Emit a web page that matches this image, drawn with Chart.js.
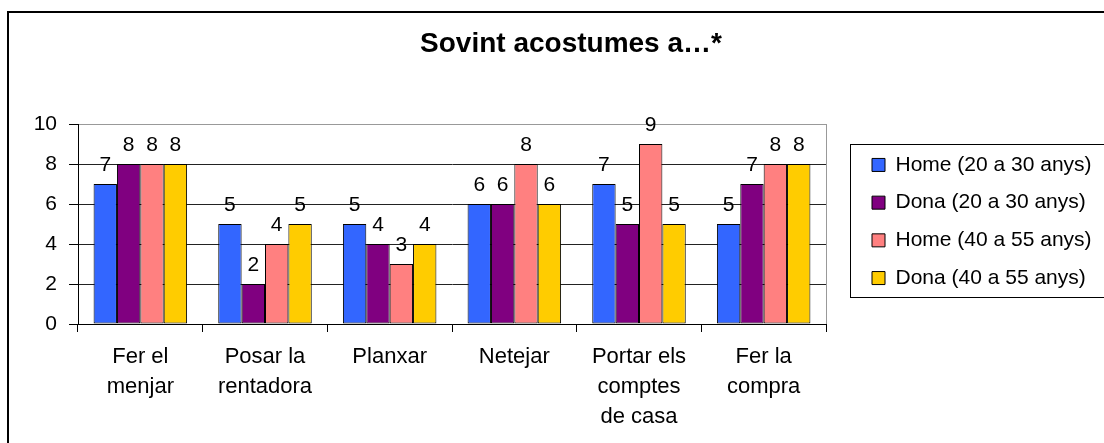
<!DOCTYPE html>
<html>
<head>
<meta charset="utf-8">
<title>Sovint acostumes a…*</title>
<script src="https://cdn.jsdelivr.net/npm/chart.js@4.4.1/dist/chart.umd.min.js"></script>
<style>
  html, body { margin: 0; padding: 0; background: #fff; overflow: hidden; }
  #caixa { width: 1104px; height: 443px; overflow: hidden; }
</style>
</head>
<body>
<div id="caixa"><canvas id="grafic" width="1142" height="443"></canvas></div>
<script>
// dades
const categories = [
  ['Fer el', 'menjar'],
  ['Posar la', 'rentadora'],
  ['Planxar'],
  ['Netejar'],
  ['Portar els', 'comptes', 'de casa'],
  ['Fer la', 'compra']
];
const nomsSeries = ['Home (20 a 30 anys)', 'Dona (20 a 30 anys)', 'Home (40 a 55 anys)', 'Dona (40 a 55 anys)'];
const home2030 = [7, 5, 5, 6, 7, 5];
const dona2030 = [8, 2, 4, 6, 5, 7];
const home4055 = [8, 4, 3, 8, 9, 8];
const dona4055 = [8, 5, 4, 6, 5, 8];
const yTicks = [0, 2, 4, 6, 8, 10];
const colors = ['#3366FF', '#800080', '#FF8080', '#FFCC00'];

const FONT = '"Liberation Sans", Arial, sans-serif';
const PLOT_RIGHT = 826;   // vora dreta de l'area del grafic
const GAP = 29.3;         // espai entre grafic i llegenda

Chart.defaults.font.family = FONT;
Chart.defaults.color = '#000';

// valors damunt de cada barra
const etiquetes = {
  id: 'etiquetes',
  afterDatasetsDraw(chart) {
    const ctx = chart.ctx;
    ctx.save();
    ctx.font = '21px ' + FONT;
    ctx.fillStyle = '#000';
    ctx.textAlign = 'center';
    ctx.textBaseline = 'alphabetic';
    chart.data.datasets.forEach(function(ds, i) {
      chart.getDatasetMeta(i).data.forEach(function(bar, j) {
        ctx.fillText(ds.data[j], bar.x, bar.y - 13);
      });
    });
    ctx.restore();
  }
};

// marc exterior, vora de l'area i marc de la llegenda
const marcs = {
  id: 'marcs',
  beforeDraw(chart) {
    const ctx = chart.ctx;
    const a = chart.chartArea;
    ctx.save();
    ctx.strokeStyle = '#000';
    ctx.lineWidth = 2;
    ctx.strokeRect(8, 12, chart.width - 16, chart.height + 20);
    ctx.strokeStyle = '#999';
    ctx.lineWidth = 1;
    ctx.strokeRect(a.left + 0.5, a.top + 0.5, a.right - a.left, a.bottom - a.top);
    ctx.restore();
  },
  afterDraw(chart) {
    const hb = chart.legend.legendHitBoxes;
    if (!hb || !hb.length) return;
    const first = hb[0], last = hb[hb.length - 1];
    const x = Math.round(first.left - 22) + 0.5;
    const y = Math.round(first.top + first.height / 2 - 21) + 0.5;
    const y2 = Math.round(last.top + last.height / 2 + 19) + 0.5;
    const ctx = chart.ctx;
    ctx.save();
    ctx.strokeStyle = '#000';
    ctx.lineWidth = 1;
    ctx.strokeRect(x, y, 280, y2 - y);
    ctx.restore();
  }
};

const dades = [home2030, dona2030, home4055, dona4055];

new Chart(document.getElementById('grafic'), {
  type: 'bar',
  data: {
    labels: categories,
    datasets: dades.map(function(d, i) {
      return {
        label: nomsSeries[i],
        data: d,
        backgroundColor: colors[i],
        borderColor: '#000',
        borderWidth: 1,
        borderSkipped: false,
        categoryPercentage: 0.75,
        barPercentage: 1,
        xAxisID: 'x',
        yAxisID: 'y'
      };
    })
  },
  options: {
    responsive: false,
    animation: false,
    layout: { padding: 0 },
    plugins: {
      title: {
        display: true,
        text: 'Sovint acostumes a…*',
        color: '#000',
        font: { size: 28, weight: 'bold' },
        padding: { top: 27.2, bottom: 63.2 }
      },
      legend: {
        position: 'right',
        align: 'center',
        maxWidth: 320,
        labels: {
          color: '#000',
          font: { size: 21 },
          boxWidth: 13,
          boxHeight: 13,
          padding: 16.7
        }
      },
      tooltip: { enabled: false }
    },
    scales: {
      x: {
        offset: true,
        grid: { offset: true, drawOnChartArea: false, drawTicks: true, tickLength: 8, color: '#000' },
        border: { color: '#000', width: 1 },
        ticks: {
          color: '#000',
          font: { size: 22, lineHeight: 30 / 22 },
          padding: 10,
          maxRotation: 0,
          autoSkip: false
        },
        afterFit: function(s) { s.height = 119; }
      },
      y: {
        min: yTicks[0],
        max: yTicks[yTicks.length - 1],
        grid: {
          color: function(c) { return c.tick && c.tick.value === yTicks[yTicks.length - 1] ? '#999' : '#222'; },
          tickColor: '#000',
          tickLength: 9
        },
        border: { color: '#000', width: 1 },
        ticks: {
          stepSize: yTicks[1] - yTicks[0],
          color: '#000',
          font: { size: 21 },
          padding: 12
        },
        afterFit: function(s) { s.width = 78; }
      },
      gap: {
        axis: 'y',
        position: 'right',
        weight: 0,
        grid: { display: false, drawTicks: false },
        border: { display: false },
        ticks: { display: false },
        afterFit: function(s) { s.width = GAP; }
      },
      pad: {
        axis: 'y',
        position: 'right',
        weight: 2000,
        grid: { display: false, drawTicks: false },
        border: { display: false },
        ticks: { display: false },
        afterFit: function(s) {
          s.width = Math.max(0, s.chart.width - PLOT_RIGHT - GAP - s.chart.legend.width);
        }
      }
    }
  },
  plugins: [etiquetes, marcs]
});
</script>
</body>
</html>
